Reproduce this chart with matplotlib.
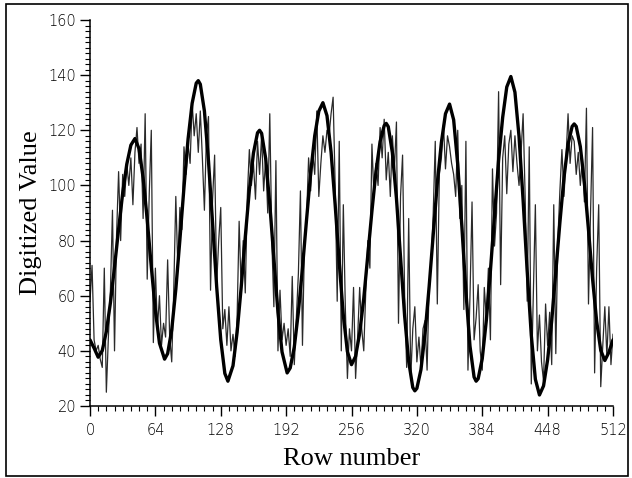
import matplotlib
matplotlib.use("Agg")
import matplotlib.pyplot as plt
from matplotlib.patches import Rectangle
from matplotlib.ticker import MultipleLocator

# ---------------- data ----------------
smooth_rows = [0, 4, 8, 12, 16, 20, 24, 28, 32, 36, 40, 44, 48, 52, 56, 60, 64, 68, 73,
               76, 80, 84, 88, 92, 96, 100, 104, 106, 108, 112, 116, 120, 124, 128, 132, 135,
               140, 144, 148, 152, 156, 160, 164, 166, 168, 172, 176, 180, 184, 188, 193,
               196, 200, 204, 208, 212, 216, 220, 224, 228, 232, 236, 240, 244, 248, 252, 256,
               260, 264, 268, 272, 276, 280, 284, 288, 290, 292, 296, 300, 304, 308, 312, 316, 318,
               320, 324, 328, 332, 336, 340, 344, 348, 352, 356, 360, 364, 368, 372, 376, 378,
               380, 384, 388, 392, 396, 400, 404, 408, 412, 416, 420, 424, 428, 432, 436, 440,
               444, 448, 452, 456, 460, 464, 468, 472, 474, 476, 480, 484, 488, 492, 496, 500,
               504, 508, 512]
smooth_vals = [44, 41, 37.7, 40.1, 47.0, 57.5, 70.4, 84.2, 97.2, 107.7, 114.6, 117, 113.3, 102.8,
               87.7, 70.5, 54.6, 42.8, 37,
               39.0, 47.6, 62.3, 80.3, 99.3, 116.8, 129.8, 137.1, 138, 136.7, 127.0, 108.8, 86.4,
               63.3, 44.0, 31.8, 29,
               34.6, 46.7, 63.0, 81.3, 98.3, 111.7, 119.1, 120, 118.9, 109.7, 93.2, 73.4, 54.0,
               39.6, 32,
               33.8, 41.4, 54.1, 70.1, 87.6, 104.4, 118.0, 126.9, 130, 125.3, 112.1, 93.0, 72.0,
               52.9, 39.7, 35,
               38.0, 46.4, 59.0, 74.7, 90.7, 105.2, 115.9, 121.7, 122.5, 121.3, 111.9, 95.3, 74.0,
               52.7, 36.1, 26.7, 25.5,
               26.4, 33.2, 46.3, 63.3, 82.3, 100.9, 115.6, 126.0, 129.5, 123.8, 107.6, 85.3, 61.5,
               41.7, 30.5, 29,
               29.9, 37.2, 51.1, 69.1, 89.3, 109.1, 124.7, 135.7, 139.5, 133.8, 117.8, 94.6, 68.9,
               45.7, 29.7, 24,
               27.3, 36.8, 50.9, 68.6, 86.5, 102.8, 114.9, 121.4, 122.3, 121.4, 114.1, 100.8, 83.9,
               66.1, 50.7, 40.2,
               36.5, 39.5, 44]

noisy_rows = list(range(0, 513, 2))
noisy_vals = [
    58, 71, 44, 40, 42, 37, 34, 70, 25, 45, 62, 91, 40, 82, 105, 80,
    104, 96, 108, 100, 110, 93, 112, 121, 108, 115, 88, 126, 66, 97, 120, 43,
    70, 48, 60, 42, 50, 45, 73, 45, 36, 62, 96, 70, 92, 84, 114, 104,
    115, 108, 130, 118, 126, 112, 127, 110, 91, 118, 125, 62, 95, 111, 64, 80,
    92, 48, 55, 42, 56, 40, 46, 38, 52, 87, 62, 80, 61, 96, 113, 100,
    108, 95, 116, 104, 118, 98, 110, 90, 126, 80, 56, 109, 40, 62, 44, 50,
    42, 48, 38, 67, 35, 52, 68, 98, 42, 80, 88, 110, 98, 112, 104, 127,
    96, 108, 118, 112, 120, 118, 126, 132, 100, 58, 116, 40, 93, 55, 30, 48,
    40, 63, 30, 45, 63, 48, 40, 62, 80, 70, 115, 96, 108, 100, 121, 110,
    124, 102, 112, 96, 118, 106, 123, 50, 96, 111, 60, 34, 88, 30, 48, 56,
    36, 45, 34, 48, 51, 33, 64, 72, 90, 116, 57, 104, 110, 122, 106, 118,
    114, 108, 104, 96, 120, 88, 100, 55, 116, 33, 60, 94, 44, 52, 64, 40,
    33, 63, 52, 70, 44, 106, 78, 90, 134, 64, 110, 118, 97, 115, 120, 105,
    118, 108, 100, 112, 126, 96, 58, 114, 28, 60, 93, 40, 53, 36, 29, 57,
    42, 54, 35, 93, 39, 80, 98, 113, 96, 110, 126, 108, 118, 116, 104, 112,
    100, 110, 94, 128, 57, 90, 121, 32, 70, 93, 27, 42, 56, 38, 56, 35,
    46]

x_ticks = [0, 64, 128, 192, 256, 320, 384, 448, 512]
y_ticks = [20, 40, 60, 80, 100, 120, 140, 160]

# ---------------- figure ----------------
fig = plt.figure(figsize=(6.32, 4.78), dpi=100)
fig.patch.set_facecolor("white")

# outer frame of the scanned figure
fig.patches.append(Rectangle((0.010, 0.005), 0.983, 0.986, transform=fig.transFigure,
                             fill=False, edgecolor="black", linewidth=1.2))

ax = fig.add_axes([90 / 632, 1 - 406 / 478, 523 / 632, 386 / 478])

ax.plot(noisy_rows, noisy_vals, color="#2a2a2a", linewidth=0.9, zorder=2)
ax.plot(smooth_rows, smooth_vals, color="black", linewidth=2.4, zorder=3,
        solid_joinstyle="round", solid_capstyle="round")

ax.set_xlim(0, 512)
ax.set_ylim(20, 160)

for s in ["top", "right"]:
    ax.spines[s].set_visible(False)
for s in ["left", "bottom"]:
    ax.spines[s].set_linewidth(1.1)

ax.set_xticks(x_ticks)
ax.set_yticks(y_ticks)
ax.xaxis.set_minor_locator(MultipleLocator(8))
ax.yaxis.set_minor_locator(MultipleLocator(2))
ax.tick_params(which="major", direction="out", length=7, width=1.0, pad=3,
               labelsize=10.5, labelcolor="black")
ax.tick_params(axis="x", which="major", pad=5)
ax.tick_params(which="minor", direction="out", length=3.5, width=0.8)
for lab in ax.get_xticklabels() + ax.get_yticklabels():
    lab.set_fontfamily("DejaVu Sans")
    lab.set_fontweight("light")

ax.set_xlabel("Row number", fontfamily="Liberation Serif", fontsize=19)
ax.set_ylabel("Digitized Value", fontfamily="Liberation Serif", fontsize=19)
ax.xaxis.set_label_coords(0.5, -0.108)
ax.yaxis.set_label_coords(-0.092, 0.5)

fig.savefig("out.png", dpi=100, facecolor="white")
